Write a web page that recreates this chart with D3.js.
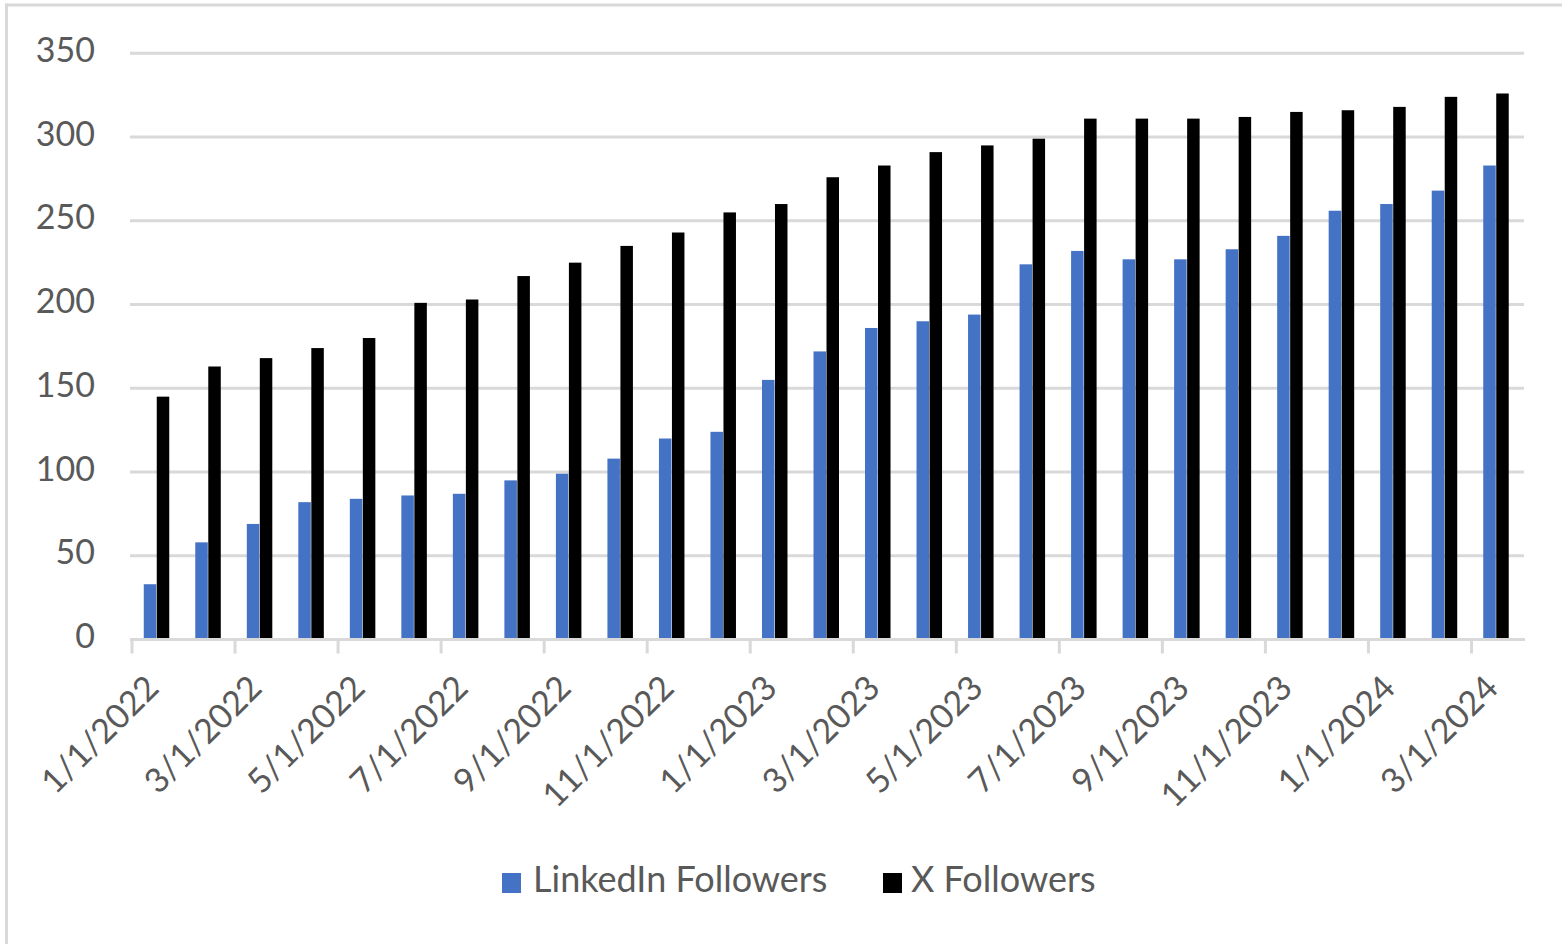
<!DOCTYPE html>
<html>
<head>
<meta charset="utf-8">
<script src="https://cdn.jsdelivr.net/npm/d3@7"></script>
<style>
  html, body { margin: 0; padding: 0; background: #fff; }
  svg { display: block; }
  text { font-family: Lato, "Open Sans", sans-serif; fill: #595959; }
</style>
</head>
<body>
<svg id="chart" width="1562" height="944"></svg>
<script>
// ---- data ----
const categories = [
  "1/1/2022","2/1/2022","3/1/2022","4/1/2022","5/1/2022","6/1/2022","7/1/2022",
  "8/1/2022","9/1/2022","10/1/2022","11/1/2022","12/1/2022",
  "1/1/2023","2/1/2023","3/1/2023","4/1/2023","5/1/2023","6/1/2023","7/1/2023",
  "8/1/2023","9/1/2023","10/1/2023","11/1/2023","12/1/2023",
  "1/1/2024","2/1/2024","3/1/2024"
];
const linkedinFollowers = [33,58,69,82,84,86,87,95,99,108,120,124,155,172,186,190,194,224,232,227,227,233,241,256,260,268,283];
const xFollowers = [145,163,168,174,180,201,203,217,225,235,243,255,260,276,283,291,295,299,311,311,311,312,315,316,318,324,326];
const seriesNames = ["LinkedIn Followers", "X Followers"];
const seriesColors = ["#4472C4", "#000000"];
const yTickValues = [0,50,100,150,200,250,300,350];
const xTickLabels = ["1/1/2022","3/1/2022","5/1/2022","7/1/2022","9/1/2022","11/1/2022",
  "1/1/2023","3/1/2023","5/1/2023","7/1/2023","9/1/2023","11/1/2023","1/1/2024","3/1/2024"];

// ---- layout ----
const svg = d3.select("#chart");
const plot = { left: 132, right: 1523, top: 53.3, bottom: 639.5 };
const gridColor = "#d9d9d9";

// chart border (left & top visible)
svg.append("line").attr("x1", 6.5).attr("x2", 6.5).attr("y1", 3.5).attr("y2", 944)
  .attr("stroke", gridColor).attr("stroke-width", 3);
svg.append("line").attr("x1", 5).attr("x2", 1562).attr("y1", 5).attr("y2", 5)
  .attr("stroke", gridColor).attr("stroke-width", 3);

const x = d3.scaleBand().domain(categories).range([plot.left, plot.right]).paddingInner(0).paddingOuter(0);
const y = d3.scaleLinear().domain([0, 350]).range([plot.bottom, plot.top]);
const groupW = 26;
const xs = d3.scaleBand().domain(seriesNames).range([0, groupW]).padding(0);

// gridlines
svg.append("g").selectAll("line").data(yTickValues.filter(v => v > 0)).join("line")
  .attr("x1", plot.left - 2).attr("x2", plot.right + 1)
  .attr("y1", d => y(d)).attr("y2", d => y(d))
  .attr("stroke", gridColor).attr("stroke-width", 3);

// y axis labels
const yAxis = d3.axisLeft(y).tickValues(yTickValues).tickSize(0).tickPadding(0);
const gy = svg.append("g").attr("transform", "translate(95,0)").call(yAxis);
gy.select(".domain").remove();
gy.selectAll("text").attr("font-size", 34).attr("dy", null).attr("y", 8)
  .style("font-family", "Lato, 'Open Sans', sans-serif").attr("fill", "#595959");

// bars
const data = categories.map((c, i) => ({ c, vals: [linkedinFollowers[i], xFollowers[i]] }));
const groups = svg.append("g").selectAll("g").data(data).join("g")
  .attr("transform", d => `translate(${x(d.c) + x.bandwidth() / 2 - groupW / 2 - 1},0)`);
groups.selectAll("rect").data(d => d.vals.map((v, k) => ({ v, k }))).join("rect")
  .attr("x", d => xs(seriesNames[d.k]))
  .attr("width", xs.bandwidth() - 0.5)
  .attr("y", d => y(d.v))
  .attr("height", d => y(0) - y(d.v))
  .attr("fill", d => seriesColors[d.k]);

// x axis line
svg.append("line").attr("x1", plot.left - 2).attr("x2", plot.right + 2)
  .attr("y1", y(0)).attr("y2", y(0)).attr("stroke", gridColor).attr("stroke-width", 3);

// ticks at band boundaries
svg.append("g").selectAll("line").data(xTickLabels).join("line")
  .attr("x1", d => x(d)).attr("x2", d => x(d))
  .attr("y1", y(0)).attr("y2", y(0) + 14)
  .attr("stroke", gridColor).attr("stroke-width", 3);

// rotated labels
svg.append("g").selectAll("text").data(xTickLabels).join("text")
  .attr("transform", d => `translate(${x(d) + x.bandwidth() / 2 + 3},690) rotate(-45)`)
  .attr("text-anchor", "end")
  .attr("font-size", 34)
  .text(d => d);

// legend
const legend = svg.append("g");
const legendItems = [
  { name: seriesNames[0], color: seriesColors[0], sx: 502, tx: 533 },
  { name: seriesNames[1], color: seriesColors[1], sx: 883, tx: 911 }
];
legend.selectAll("rect").data(legendItems).join("rect")
  .attr("x", d => d.sx).attr("y", 873).attr("width", 19).attr("height", 20)
  .attr("fill", d => d.color);
legend.selectAll("text").data(legendItems).join("text")
  .attr("x", d => d.tx).attr("y", 892).attr("font-size", 36)
  .text(d => d.name);
</script>
</body>
</html>
